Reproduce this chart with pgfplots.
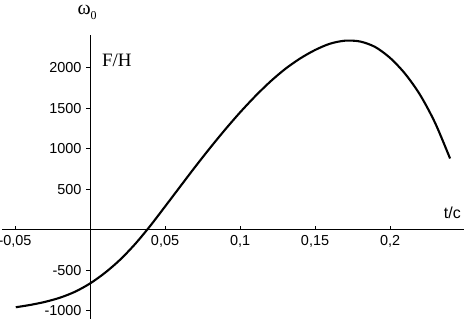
\documentclass[border=0pt]{standalone}
\usepackage{fontspec}
\setmainfont{Liberation Sans}
\newfontfamily\seriffont{Liberation Serif}
\usepackage{pgfplots}
\pgfplotsset{compat=1.18}
\begin{document}
\begin{tikzpicture}
\begin{axis}[
  scale only axis,
  width=462bp, height=284bp,
  xmin=-0.0587, xmax=0.2493,
  ymin=-1100, ymax=2400,
  axis lines=middle,
  axis line style={-, line width=1.1bp},
  xtick={-0.05,0.05,0.1,0.15,0.2},
  xticklabels={{-0,05},{0,05},{0,1},{0,15},{0,2}},
  ytick={-1000,-500,500,1000,1500,2000},
  yticklabels={{-1000},{-500},{500},{1000},{1500},{2000}},
  xtick align=inside,
  ytick align=outside,
  major tick length=4bp,
  tick style={line width=1bp, black},
  tick label style={font=\fontsize{14.5}{16}\selectfont},
  xticklabel style={yshift=-2.5bp},
  yticklabel style={xshift=-1bp},
  clip=false,
]
\addplot[black, line width=2.1bp, smooth] coordinates {
(-0.0495,-955)
(-0.04,-927)
(-0.03,-889)
(-0.02,-837)
(-0.01,-764)
(0,-662)
(0.01,-530)
(0.02,-370)
(0.03,-177)
(0.04,45)
(0.05,286)
(0.06,530)
(0.07,773)
(0.08,1008)
(0.09,1233)
(0.10,1446)
(0.11,1643)
(0.12,1823)
(0.13,1980)
(0.14,2110)
(0.15,2215)
(0.16,2293)
(0.17,2330)
(0.18,2320)
(0.19,2253)
(0.20,2118)
(0.21,1923)
(0.22,1663)
(0.23,1318)
(0.24,878)
};
\node[font=\seriffont\fontsize{20}{22}\selectfont] at (axis cs:-0.002,2680) {ω\raisebox{-0.5ex}{\fontsize{12}{13}\selectfont 0}};
\node[font=\seriffont\fontsize{19}{21}\selectfont] at (axis cs:0.0178,2087) {F/H};
\node[font=\fontsize{16}{18}\selectfont] at (axis cs:0.2415,209) {t/c};
\coordinate (tl) at (rel axis cs:0,1);
\coordinate (br) at (rel axis cs:1,0);
\end{axis}
\pgfresetboundingbox
\path ([xshift=-2bp,yshift=35bp]tl) rectangle (br);
\end{tikzpicture}
\end{document}
